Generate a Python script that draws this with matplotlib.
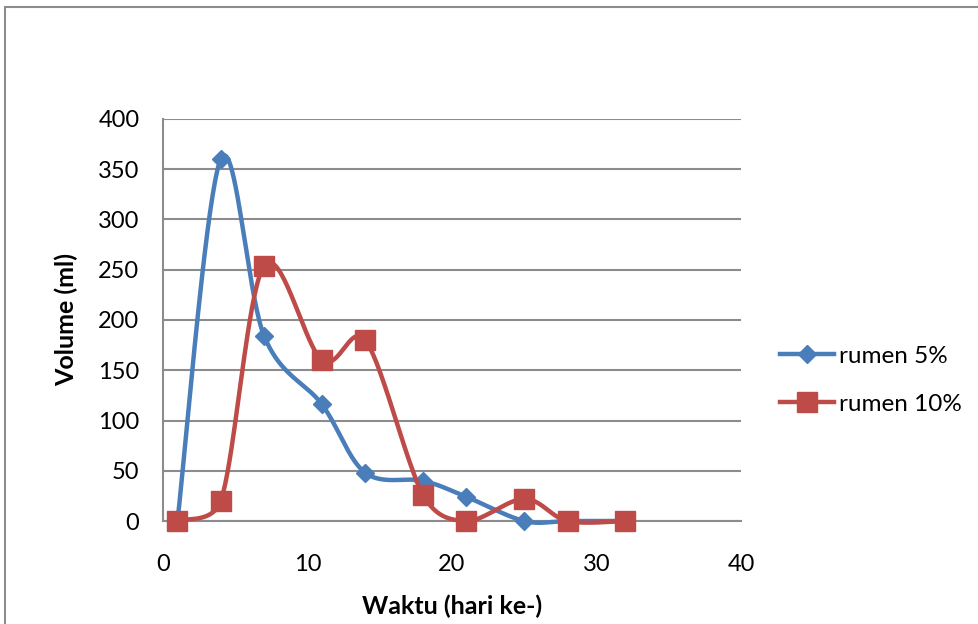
import numpy as np
import matplotlib
matplotlib.use("Agg")
import matplotlib.pyplot as plt
from matplotlib.patches import Rectangle

plt.rcParams['font.family'] = ['Lato', 'DejaVu Sans']

# data
hari = [1, 4, 7, 11, 14, 18, 21, 25, 28, 32]
rumen5 = [0, 360, 184, 116, 48, 40, 24, 0, 0, 0]
rumen10 = [0, 20, 254, 160, 180, 26, 0, 22, 0, 0]
x_ticks = [0, 10, 20, 30, 40]
y_ticks = [0, 50, 100, 150, 200, 250, 300, 350, 400]

# kurva halus seperti Excel: Catmull-Rom, lengan kontrol dibatasi setengah panjang segmen (piksel)
def smooth(x, y, n=40, kx=14.45, ky=1.0):
    P = np.column_stack([np.asarray(x, float), np.asarray(y, float)])
    m = len(P)
    scale = np.array([kx, ky])
    d = np.hypot(*((P[1:] - P[:-1]) * scale).T)
    before = P.copy()
    after = P.copy()
    for i in range(m):
        if i == 0:
            after[i] = P[i] + (P[1] - P[0]) / 6
        elif i == m - 1:
            before[i] = P[i] - (P[i] - P[i - 1]) / 6
        else:
            arm = (P[i + 1] - P[i - 1]) / 6
            L = np.hypot(*(arm * scale))
            if L == 0:
                continue
            fb = min(1.0, 0.5 * d[i - 1] / L)
            fa = min(1.0, 0.5 * d[i] / L)
            before[i] = P[i] - arm * fb
            after[i] = P[i] + arm * fa
    out = []
    t = np.linspace(0, 1, n)[:, None]
    for i in range(m - 1):
        p1, c1, c2, p2 = P[i], after[i], before[i + 1], P[i + 1]
        seg = (1 - t) ** 3 * p1 + 3 * (1 - t) ** 2 * t * c1 + 3 * (1 - t) * t ** 2 * c2 + t ** 3 * p2
        out.append(seg)
    s = np.vstack(out)
    return s[:, 0], s[:, 1]

fig = plt.figure(figsize=(9.79, 6.24), dpi=100)
fig.patches.append(Rectangle((5.5 / 979, -0.2), 1.2, 1.2 - 7 / 624, transform=fig.transFigure,
                             fill=False, edgecolor='#8c8c8c', linewidth=1.5))
ax = fig.add_axes([163 / 979, 1 - 521 / 624, (741 - 163) / 979, (521 - 119) / 624])

blue = '#4A7EBB'
red = '#BE4B48'

sx, sy = smooth(hari, rumen5)
ax.plot(sx, sy, color=blue, linewidth=3.2, solid_capstyle='round', zorder=3, clip_on=False)
ax.plot(hari, rumen5, linestyle='none', marker='D', markersize=9.5, color=blue, zorder=4, clip_on=False)
sx, sy = smooth(hari, rumen10)
ax.plot(sx, sy, color=red, linewidth=3.2, solid_capstyle='round', zorder=5, clip_on=False)
ax.plot(hari, rumen10, linestyle='none', marker='s', markersize=14, color=red, zorder=6, clip_on=False)

ax.plot([], [], color=blue, linewidth=3.2, marker='D', markersize=9.5, label='rumen 5%')
ax.plot([], [], color=red, linewidth=3.2, marker='s', markersize=14, label='rumen 10%')

ax.set_xlim(0, 40)
ax.set_ylim(0, 400)
ax.set_xticks(x_ticks)
ax.set_yticks(y_ticks)
ax.tick_params(length=0, labelsize=17)
ax.tick_params(axis='y', pad=17)
ax.tick_params(axis='x', pad=24)
ax.grid(axis='y', color='#8c8c8c', linewidth=1.5)
ax.set_axisbelow(True)
for s in ['top', 'right']:
    ax.spines[s].set_visible(False)
for s in ['left', 'bottom']:
    ax.spines[s].set_color('#8c8c8c')
    ax.spines[s].set_linewidth(1.5)

ax.set_xlabel('Waktu (hari ke-)', fontsize=18, fontweight='bold', labelpad=14)
ax.set_ylabel('Volume (ml)', fontsize=18, fontweight='bold', labelpad=14)

ax.legend(loc='center left', bbox_to_anchor=(1.03, 0.35), frameon=False, fontsize=17.5,
          handlelength=2.2, handletextpad=0.2, labelspacing=1.1)

fig.savefig('out.png', dpi=100)
